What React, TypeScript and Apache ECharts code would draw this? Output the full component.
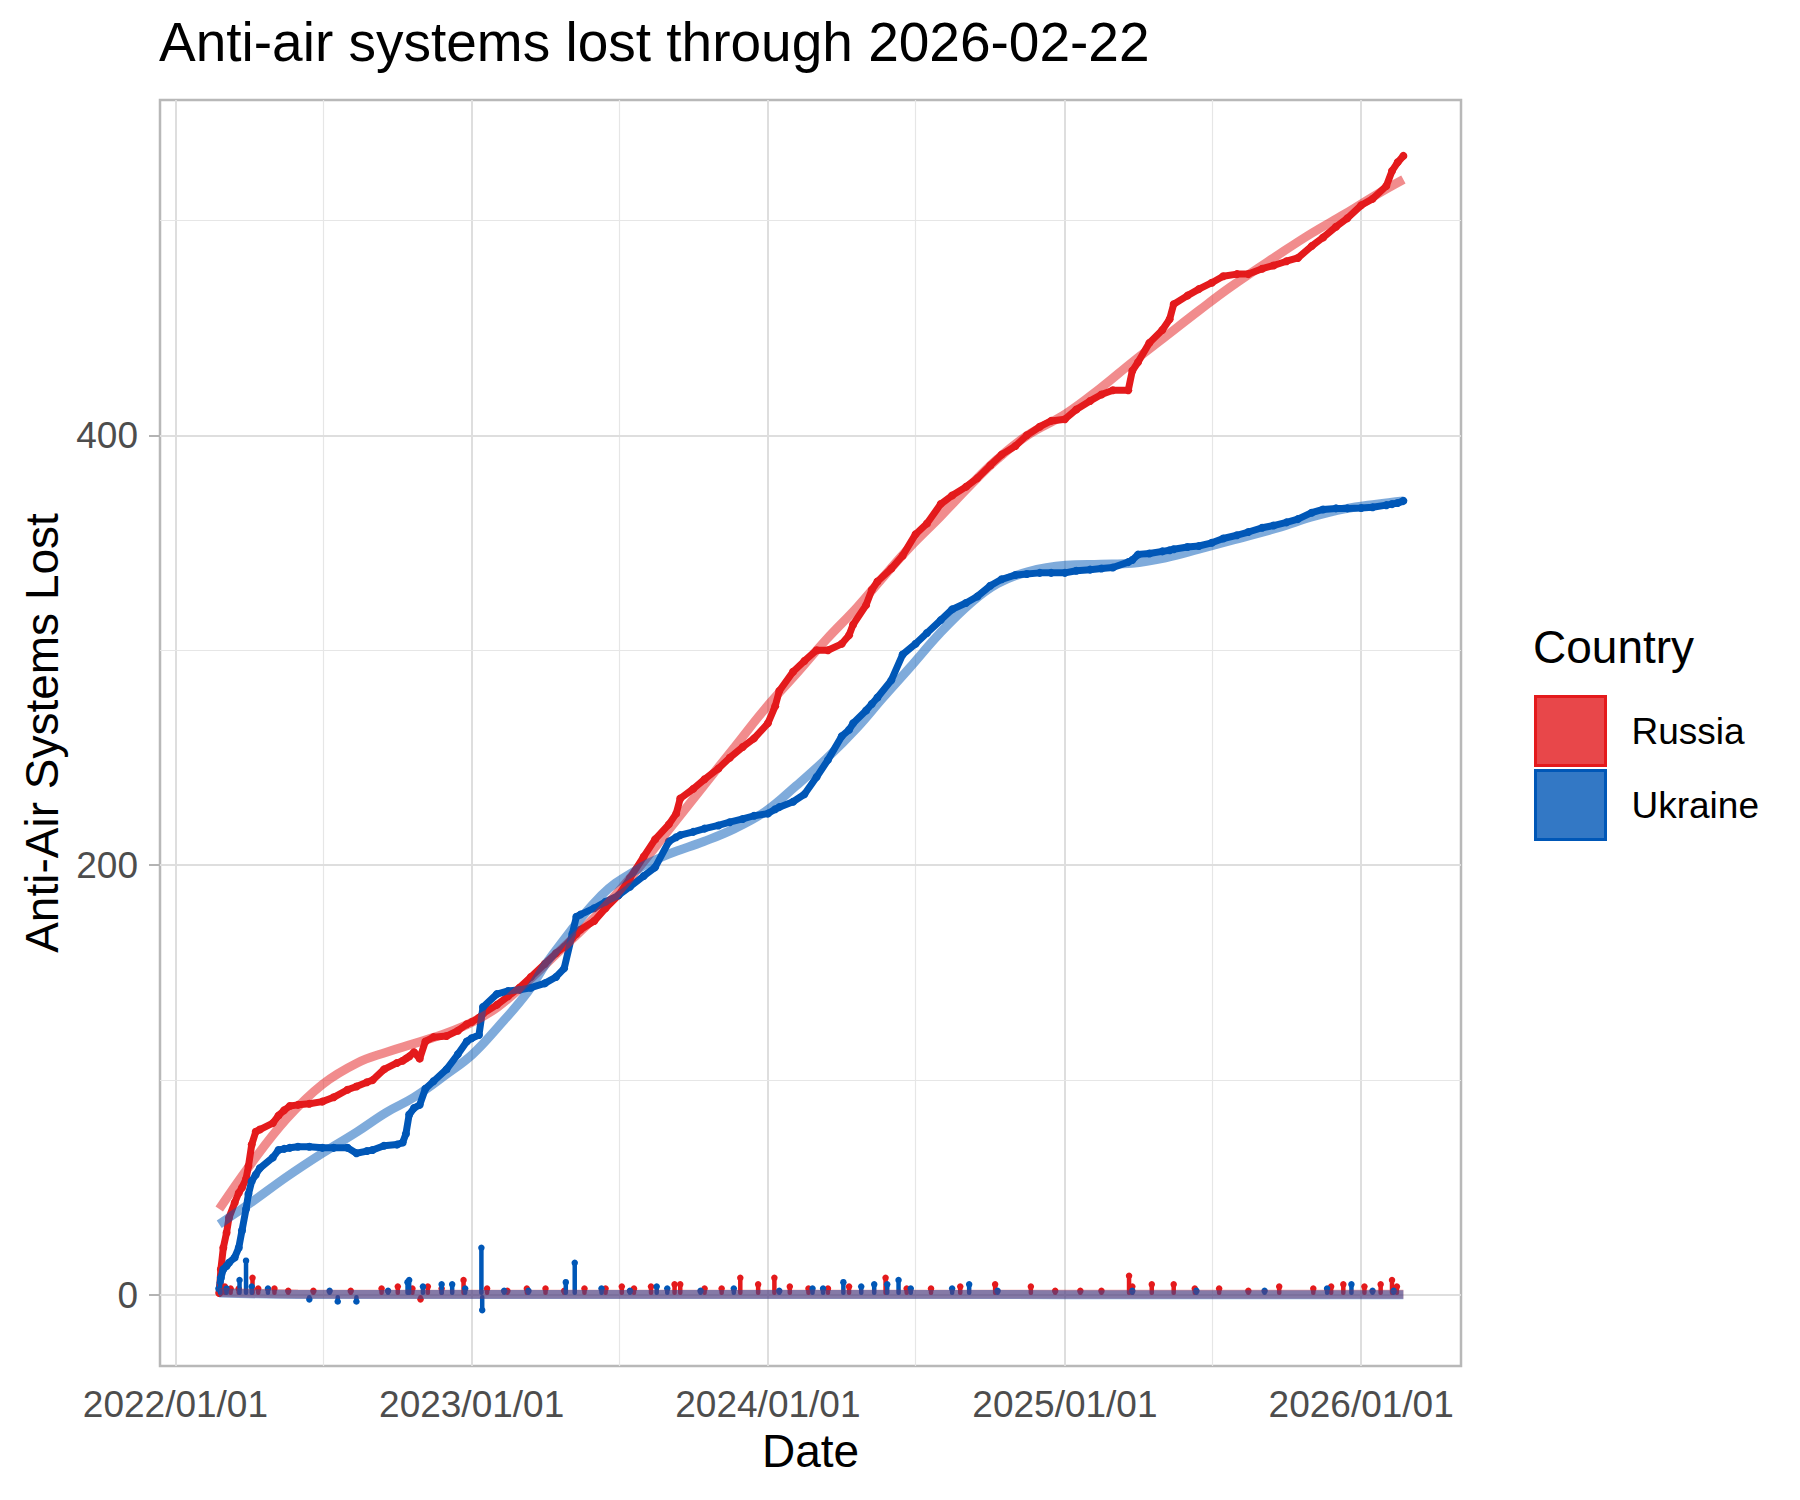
import React, { useEffect, useRef } from "react";
import * as echarts from "echarts";

// ---------- data ----------
const cumDates = [
  "2022-02-24","2022-02-26","2022-03-01","2022-03-05","2022-03-08","2022-03-15","2022-03-20","2022-03-24","2022-03-29","2022-04-01",
  "2022-04-05","2022-04-10","2022-04-15","2022-05-01","2022-05-08","2022-05-15","2022-05-22","2022-06-01","2022-06-15","2022-07-01",
  "2022-07-15","2022-08-01","2022-08-12","2022-08-25","2022-09-01","2022-09-15","2022-10-01","2022-10-08","2022-10-12","2022-10-16",
  "2022-10-22","2022-10-29","2022-11-05","2022-11-15","2022-12-01","2022-12-15","2022-12-26",
  "2023-01-01","2023-01-10","2023-01-15","2023-02-01","2023-02-15","2023-03-01","2023-03-15","2023-04-01","2023-04-15","2023-04-25",
  "2023-05-05","2023-05-10","2023-05-15","2023-06-01","2023-06-15","2023-07-01","2023-07-15","2023-08-01","2023-08-15","2023-09-01",
  "2023-09-10","2023-09-15","2023-10-01","2023-10-15","2023-11-01","2023-11-15","2023-12-01","2023-12-15",
  "2024-01-01","2024-01-10","2024-01-15","2024-02-01","2024-02-15","2024-03-01","2024-03-15","2024-04-01","2024-04-10","2024-04-15",
  "2024-05-01","2024-05-08","2024-05-15","2024-06-01","2024-06-15","2024-07-01","2024-07-15","2024-08-01","2024-08-15","2024-09-01",
  "2024-09-15","2024-10-01","2024-10-15","2024-11-01","2024-11-15","2024-12-01","2024-12-15",
  "2025-01-01","2025-01-15","2025-02-01","2025-02-15","2025-03-01","2025-03-20","2025-03-25","2025-04-01","2025-04-15","2025-05-01",
  "2025-05-10","2025-05-15","2025-06-01","2025-06-15","2025-07-01","2025-07-15","2025-08-01","2025-08-15","2025-09-01","2025-09-15",
  "2025-10-01","2025-10-15","2025-11-01","2025-11-15","2025-12-01","2025-12-15",
  "2026-01-01","2026-01-15","2026-02-01","2026-02-08","2026-02-15","2026-02-22"
];

const russiaCum = [
  1, 12, 22, 29, 36, 43, 47.5, 50, 54, 60,
  70, 76, 77, 80, 83.5, 86, 88, 88.5, 89, 90,
  92, 95.5, 97, 99, 100, 105, 108, 109, 110, 111,
  113, 110, 118, 120, 120.5, 123, 126,
  127, 129, 131, 135, 139, 143, 148, 154, 159, 162,
  166, 168, 170, 174, 180, 186, 194, 204, 212, 219,
  224, 231, 235.5, 240, 245, 250, 255, 259,
  266, 274, 281, 290, 295, 300, 300, 303, 307, 312,
  321, 328, 332, 338, 344, 354, 359, 368, 372, 376,
  380, 386, 391, 395, 400, 404, 406.7,
  407.5, 412, 416, 419, 421, 421, 430, 434, 443, 449,
  454, 461, 465, 468, 471, 474, 475, 475, 477.5, 479,
  481, 482.5, 488, 492, 497, 501,
  507, 510, 516, 523, 527, 530
];

const ukraineCum = [
  3, 8, 12, 13.5, 15, 17.5, 22, 30, 40, 47,
  53, 56, 59, 64, 67.5, 68, 68.5, 69, 69, 68.5,
  68.5, 68.5, 66, 67, 67.5, 69.5, 70, 71, 75, 84,
  87, 88.5, 96, 99.5, 105, 112, 118,
  119.5, 121, 134, 140, 141.5, 142, 143, 145, 148, 152,
  168, 176, 177, 180, 183, 186, 190, 195, 199, 211,
  213, 214, 215.5, 217, 218.5, 220, 221.5, 223,
  224, 226, 227, 229.5, 233, 241, 249, 260, 263, 266,
  272, 275, 278, 286, 298, 303, 308, 314, 319, 322,
  325, 330, 333, 335, 335.5, 336, 336,
  336, 337, 337.5, 338, 338.5, 341, 342, 344.5, 345, 346,
  346.5, 347, 348, 348.5, 350, 352, 353.5, 355, 357, 358,
  359.5, 361, 364, 365.5, 366, 366,
  366.2, 366.5, 367.5, 368, 368.5, 369.5
];

const smoothDates = [
  "2022-02-24","2022-04-04","2022-05-18","2022-07-01","2022-08-13","2022-09-18","2022-10-22","2022-12-02",
  "2023-01-02","2023-02-02","2023-03-11","2023-04-08","2023-06-10","2023-07-24","2023-08-31","2023-10-14","2023-11-21","2023-12-29",
  "2024-02-05","2024-03-13","2024-04-20","2024-05-22","2024-06-24","2024-07-31","2024-09-07","2024-10-10","2024-11-16",
  "2025-01-02","2025-02-14","2025-03-25","2025-05-05","2025-06-15","2025-07-24","2025-09-21","2025-11-01","2025-12-12",
  "2026-01-20","2026-02-22"
];
const russiaSmooth = [
  40, 61, 82, 98, 108, 113, 117, 122,
  127, 134, 146, 156, 179, 198, 216, 237, 255, 273,
  289, 305, 320, 334, 348, 362, 377, 389, 400,
  410, 422, 434, 446, 458, 469, 484, 494, 503,
  512, 519
];
const ukraineSmooth = [
  33, 43, 55, 66, 76, 85, 92, 103,
  112, 124.5, 141, 157, 186, 198, 205, 211, 217, 225,
  237, 249.5, 264, 278, 292, 308, 322, 331, 336.5,
  339.5, 340, 340.5, 343, 347, 351, 357, 362, 365.8,
  368, 369.5
];

const russiaDailyDates = [
  "2022-02-25","2022-02-27","2022-03-03","2022-03-10","2022-03-20","2022-04-06","2022-04-13","2022-05-03","2022-05-20","2022-06-20",
  "2022-08-05","2022-09-12","2022-10-02","2022-10-20","2022-10-30","2022-11-08","2022-11-25","2022-12-22","2023-01-20","2023-02-14",
  "2023-03-10","2023-04-02","2023-04-25","2023-05-20","2023-06-15","2023-07-05","2023-07-20","2023-08-10","2023-09-08","2023-09-15",
  "2023-10-15","2023-11-05","2023-11-28","2023-12-20","2024-01-09","2024-01-28","2024-02-20","2024-03-15","2024-04-10","2024-05-25",
  "2024-06-20","2024-07-20","2024-08-25","2024-10-07","2024-11-20","2024-12-20","2025-01-20","2025-02-15","2025-03-21","2025-03-25",
  "2025-04-18","2025-05-15","2025-06-10","2025-07-10","2025-08-15","2025-09-22","2025-11-03","2025-11-25","2025-12-10","2026-01-05",
  "2026-01-25","2026-02-08","2026-02-14"
];
const russiaDaily = [
  5, 4, 4, 3, 3, 8, 3, 3, 2, 2,
  2, 3, 4, 3, -2, 4, 3, 7, 3, 2,
  3, 3, 2, 3, 3, 4, 3, 4, 5, 5,
  3, 3, 8, 5, 8, 4, 3, 3, 4, 8,
  3, 3, 4, 5, 4, 2, 2, 2, 9, 4,
  5, 5, 3, 3, 2, 4, 3, 4, 5, 4,
  5, 7, 4
];

const ukraineDailyDates = [
  "2022-02-25","2022-03-05","2022-03-21","2022-03-29","2022-04-05","2022-04-25","2022-06-15","2022-07-10","2022-07-20","2022-08-12",
  "2022-09-20","2022-10-14","2022-10-16","2022-11-02","2022-11-25","2022-12-08","2022-12-24","2023-01-13","2023-01-14","2023-02-10",
  "2023-03-12","2023-04-27","2023-05-08","2023-06-10","2023-07-15","2023-08-17","2023-08-30","2023-10-10","2023-11-20","2024-01-15",
  "2024-02-25","2024-03-09","2024-04-03","2024-04-25","2024-05-11","2024-05-27","2024-06-10","2024-06-25","2024-08-15","2024-09-05",
  "2024-10-10","2025-03-25","2025-06-12","2025-09-04","2025-11-20","2025-12-20","2026-01-15","2026-02-10"
];
const ukraineDaily = [
  6, 3, 7, 16, 4, 3, -2, 2, -3, -3,
  2, 6, 7, 4, 5, 5, 3, 22, -7, 2,
  2, 6, 15, 3, 2, 4, 3, 2, 3, 2,
  3, 3, 6, 4, 5, 5, 7, 3, 3, 5,
  2, 2, 2, 2, 3, 5, 2, 2
];

const dailySmoothDates = ["2022-02-24","2022-06-01","2023-01-01","2024-01-01","2025-01-01","2026-02-22"];
const russiaDailySmooth = [1.2, 0.5, 0.35, 0.4, 0.35, 0.4];
const ukraineDailySmooth = [1.0, 0.3, 0.3, 0.3, 0.2, 0.1];

const xMajorDates = ["2022-01-01","2023-01-01","2024-01-01","2025-01-01","2026-01-01"];
const xMinorDates = ["2022-07-02","2023-07-02","2024-07-01","2025-07-02"];
const yMajor = [0, 200, 400];
const yMinor = [100, 300, 500];
const xRange = ["2021-12-13", "2026-05-04"];
const yRange = [-33, 556];

// ---------- helpers ----------
const ts = (s: string) => Date.parse(s + "T00:00:00Z");
const zip = (dates: string[], vals: number[]) => dates.map((d, i) => [ts(d), vals[i]]);
const pad = (n: number) => (n < 10 ? "0" + n : "" + n);
const fmtDate = (v: number) => {
  const d = new Date(v);
  return `${d.getUTCFullYear()}/${pad(d.getUTCMonth() + 1)}/${pad(d.getUTCDate())}`;
};

const FONT = "'Liberation Sans', Arial, Helvetica, sans-serif";
const RED = "#E41A1C";
const BLUE = "#0057B7";

export default function App() {
  const ref = useRef<HTMLDivElement>(null);

  useEffect(() => {
    document.body.style.margin = "0";
    if (!ref.current) return;
    const chart = echarts.init(ref.current, undefined, { renderer: "svg" });

    const majorGrid = { color: "#dedede", width: 2, type: "solid" };
    const minorGrid = { color: "#e6e6e6", width: 1.2, type: "solid" };
    const gridLines = [
      ...xMajorDates.map((d) => ({ xAxis: ts(d), lineStyle: majorGrid })),
      ...xMinorDates.map((d) => ({ xAxis: ts(d), lineStyle: minorGrid })),
      ...yMajor.map((v) => ({ yAxis: v, lineStyle: majorGrid })),
      ...yMinor.map((v) => ({ yAxis: v, lineStyle: minorGrid })),
    ];

    const tickStyle = { color: "#b3b3b3", width: 2 };
    const xTicks = xMajorDates.map(ts);

    const option: any = {
      animation: false,
      backgroundColor: "#ffffff",
      textStyle: { fontFamily: FONT },
      title: [
        {
          text: "Anti-air systems lost through 2026-02-22",
          left: 159,
          top: 14,
          padding: 0,
          textStyle: { fontSize: 55, fontWeight: "normal", color: "#000", fontFamily: FONT },
        },
        {
          text: "Country",
          left: 1533,
          top: 624,
          padding: 0,
          textStyle: { fontSize: 46, fontWeight: "normal", color: "#000", fontFamily: FONT },
        },
      ],
      legend: {
        data: [
          { name: "Russia", icon: "rect", itemStyle: { color: "#E8474A", opacity: 1, borderColor: RED, borderWidth: 3 } },
          { name: "Ukraine", icon: "rect", itemStyle: { color: "#3378C5", opacity: 1, borderColor: BLUE, borderWidth: 3 } },
        ],
        orient: "vertical",
        left: 1534,
        top: 695,
        padding: 0,
        itemWidth: 70,
        itemHeight: 69,
        itemGap: 2,
        selectedMode: false,
        textStyle: { fontSize: 37, color: "#000", fontFamily: FONT, padding: [0, 0, 0, 21] },
      },
      grid: {
        left: 160,
        right: 339,
        top: 100,
        bottom: 134,
        show: true,
        backgroundColor: "#ffffff",
        borderColor: "#b8b8b8",
        borderWidth: 2.5,
        containLabel: false,
      },
      xAxis: {
        type: "value",
        min: ts(xRange[0]),
        max: ts(xRange[1]),
        splitLine: { show: false },
        axisLine: { show: false },
        axisTick: { show: true, customValues: xTicks, length: 11, lineStyle: tickStyle },
        axisLabel: {
          customValues: xTicks,
          formatter: (v: number) => fmtDate(v),
          fontSize: 37,
          color: "#4d4d4d",
          margin: 20,
          fontFamily: FONT,
        },
        name: "Date",
        nameLocation: "middle",
        nameGap: 61,
        nameTextStyle: { fontSize: 46, color: "#000", fontFamily: FONT },
      },
      yAxis: {
        type: "value",
        min: yRange[0],
        max: yRange[1],
        splitLine: { show: false },
        axisLine: { show: false },
        axisTick: { show: true, customValues: yMajor, length: 11, lineStyle: tickStyle },
        axisLabel: {
          customValues: yMajor,
          fontSize: 37,
          color: "#4d4d4d",
          margin: 22,
          fontFamily: FONT,
        },
        name: "Anti-Air Systems Lost",
        nameLocation: "middle",
        nameGap: 92,
        nameTextStyle: { fontSize: 46, color: "#000", fontFamily: FONT },
      },
      series: [
        {
          name: "Russia cumulative",
          type: "line",
          z: 10,
          data: zip(cumDates, russiaCum),
          symbol: "circle",
          symbolSize: 8,
          showAllSymbol: true,
          itemStyle: { color: RED, borderWidth: 0 },
          lineStyle: { color: RED, width: 7, cap: "round", join: "round" },
          markLine: {
            silent: true,
            symbol: ["none", "none"],
            label: { show: false },
            animation: false,
            data: gridLines,
          },
        },
        {
          name: "Ukraine cumulative",
          type: "line",
          z: 11,
          data: zip(cumDates, ukraineCum),
          symbol: "circle",
          symbolSize: 8,
          showAllSymbol: true,
          itemStyle: { color: BLUE, borderWidth: 0 },
          lineStyle: { color: BLUE, width: 7, cap: "round", join: "round" },
        },
        {
          name: "Russia daily",
          type: "bar",
          z: 12,
          barWidth: 4.5,
          barGap: "-100%",
          data: zip(russiaDailyDates, russiaDaily),
          itemStyle: { color: RED, borderRadius: 2 },
        },
        {
          name: "Ukraine daily",
          type: "bar",
          z: 13,
          barWidth: 4.5,
          barGap: "-100%",
          data: zip(ukraineDailyDates, ukraineDaily),
          itemStyle: { color: BLUE, borderRadius: 2 },
        },
        {
          name: "Russia daily points",
          type: "scatter",
          z: 12,
          symbolSize: 6.5,
          data: zip(russiaDailyDates, russiaDaily),
          itemStyle: { color: RED, opacity: 1 },
        },
        {
          name: "Ukraine daily points",
          type: "scatter",
          z: 13,
          symbolSize: 6.5,
          data: zip(ukraineDailyDates, ukraineDaily),
          itemStyle: { color: BLUE, opacity: 1 },
        },
        {
          name: "Russia daily smooth",
          type: "line",
          z: 14,
          smooth: 0.4,
          showSymbol: false,
          data: zip(dailySmoothDates, russiaDailySmooth),
          lineStyle: { color: "rgba(228,26,28,0.45)", width: 9 },
        },
        {
          name: "Ukraine daily smooth",
          type: "line",
          z: 15,
          smooth: 0.4,
          showSymbol: false,
          data: zip(dailySmoothDates, ukraineDailySmooth),
          lineStyle: { color: "rgba(0,87,183,0.45)", width: 9 },
        },
        {
          name: "Russia smooth",
          type: "line",
          z: 16,
          smooth: 0.4,
          showSymbol: false,
          data: zip(smoothDates, russiaSmooth),
          lineStyle: { color: "rgba(228,26,28,0.5)", width: 9 },
        },
        {
          name: "Ukraine smooth",
          type: "line",
          z: 17,
          smooth: 0.4,
          showSymbol: false,
          data: zip(smoothDates, ukraineSmooth),
          lineStyle: { color: "rgba(0,87,183,0.5)", width: 9 },
        },
        { name: "Russia", type: "scatter", data: [], itemStyle: { color: "#E8474A", opacity: 1 } },
        { name: "Ukraine", type: "scatter", data: [], itemStyle: { color: "#3378C5", opacity: 1 } },
      ],
    };

    chart.setOption(option);
    return () => chart.dispose();
  }, []);

  return <div ref={ref} style={{ width: 1800, height: 1500 }} />;
}
